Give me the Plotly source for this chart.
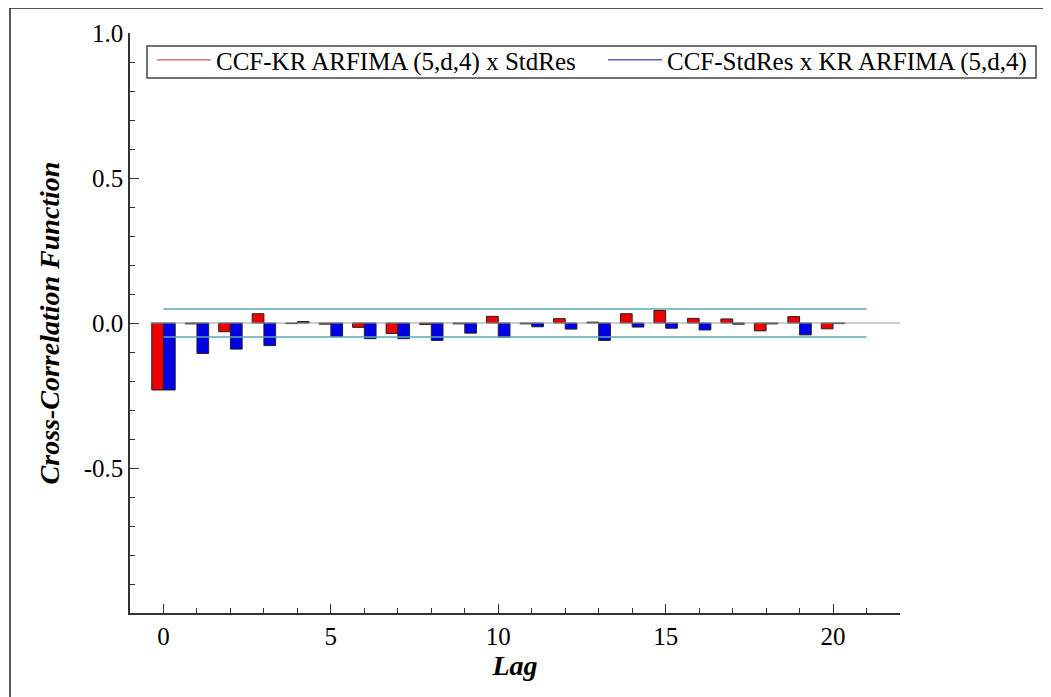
import plotly.graph_objects as go

# ---- data ----
lags = list(range(0, 21))
ccf_kr_x_stdres = [-0.231, -0.003, -0.030, 0.032, -0.002, -0.004, -0.015, -0.036, -0.005, -0.003,
                   0.023, -0.003, 0.015, 0.003, 0.032, 0.043, 0.016, 0.014, -0.027, 0.022, -0.020]
ccf_stdres_x_kr = [-0.231, -0.105, -0.090, -0.078, 0.005, -0.047, -0.054, -0.054, -0.060, -0.035,
                   -0.049, -0.013, -0.021, -0.060, -0.014, -0.018, -0.024, -0.004, -0.003, -0.041, -0.002]
conf_bound = 0.048
band_lags = [0, 21]
zero_lags = [-0.4, 22]
series_names = ["CCF-KR ARFIMA (5,d,4) x StdRes", "CCF-StdRes x KR ARFIMA (5,d,4)"]
y_tick_vals = [-0.5, 0.0, 0.5, 1.0]
y_tick_text = ["-0.5", "0.0", "0.5", "1.0"]
x_tick_vals = [0, 5, 10, 15, 20]

RED = "#ee0000"
BLUE = "#0000e6"
TEAL = "#5aaab2"
SERIF = "Liberation Serif, Times New Roman, serif"

# figure is placed 8px in from the page corner (body margin)
W, H = 1043, 689
L, T = 40, 25
R = 4
GW = W - L - R
AX_L = 122              # actual y-axis position (px from figure left)
PW, PH = 770, 580       # actual axes size


def px_x(px):
    return (px - L) / GW


def px_y(py):
    return (T + PH - py) / PH


fig = go.Figure()

# zero line
fig.add_trace(go.Scatter(x=zero_lags, y=[0, 0], mode="lines",
                         line=dict(color="#9a9a9a", width=1), showlegend=False, hoverinfo="skip"))

# bars
fig.add_trace(go.Bar(x=lags, y=ccf_kr_x_stdres, width=0.35, offset=-0.35,
                     marker=dict(color=RED, line=dict(color="#222222", width=1)),
                     showlegend=False))
fig.add_trace(go.Bar(x=lags, y=ccf_stdres_x_kr, width=0.35, offset=0.0,
                     marker=dict(color=BLUE, line=dict(color="#222222", width=1)),
                     showlegend=False))

# confidence bounds
for sgn in (1, -1):
    fig.add_trace(go.Scatter(x=band_lags, y=[sgn * conf_bound] * 2, mode="lines",
                             line=dict(color=TEAL, width=1.5), showlegend=False, hoverinfo="skip"))

# legend entries (line samples), each in its own legend box
fig.add_trace(go.Scatter(x=[None], y=[None], mode="lines", name=series_names[0],
                         line=dict(color="#e0707a", width=1.5), legend="legend"))
fig.add_trace(go.Scatter(x=[None], y=[None], mode="lines", name=series_names[1],
                         line=dict(color="#6060c0", width=1.5), legend="legend2"))

legend_common = dict(orientation="h", xanchor="left", y=px_y(29), yanchor="top",
                     bgcolor="rgba(0,0,0,0)", borderwidth=0,
                     font=dict(family=SERIF, size=25, color="black"), itemwidth=54)

fig.update_layout(
    width=W, height=H,
    paper_bgcolor="white", plot_bgcolor="white",
    margin=dict(l=L, r=R, t=T, b=H - T - PH),
    barmode="overlay",
    font=dict(family=SERIF, size=25, color="black"),
    legend=dict(x=px_x(144), **legend_common),
    legend2=dict(x=px_x(595), **legend_common),
    xaxis=dict(domain=[px_x(AX_L), px_x(AX_L + PW)], range=[-1, 22], automargin=False,
               showgrid=False, zeroline=False,
               showline=True, linecolor="#333333", linewidth=1.5,
               tickmode="array", tickvals=x_tick_vals,
               ticks="inside", ticklen=9, tickcolor="#333333", tickwidth=1,
               minor=dict(tickmode="linear", tick0=0, dtick=1, ticks="inside",
                          ticklen=5, tickcolor="#333333"),
               tickfont=dict(family=SERIF, size=25),
               title=dict(text="<b><i>Lag</i></b>", font=dict(family=SERIF, size=28), standoff=4)),
    yaxis=dict(range=[-1, 1], automargin=False, showgrid=False, zeroline=False,
               showline=True, linecolor="#333333", linewidth=1.5,
               tickmode="array", tickvals=y_tick_vals, ticktext=y_tick_text,
               ticks="inside", ticklen=9, tickcolor="#333333", tickwidth=1,
               minor=dict(tickmode="linear", tick0=0, dtick=0.1, ticks="inside",
                          ticklen=5, tickcolor="#333333"),
               tickfont=dict(family=SERIF, size=25),
               title=dict(text="<b><i>Cross-Correlation Function</i></b>",
                          font=dict(family=SERIF, size=28), standoff=16)),
    shapes=[
        # outer frame
        dict(type="rect", xref="paper", yref="paper",
             x0=px_x(2), x1=px_x(1039), y0=px_y(700), y1=px_y(0),
             line=dict(color="#222222", width=1.5), fillcolor="rgba(0,0,0,0)", layer="below"),
        # legend box
        dict(type="rect", xref="paper", yref="paper",
             x0=px_x(139), x1=px_x(1028), y0=px_y(70), y1=px_y(38),
             line=dict(color="#444444", width=1.5), fillcolor="white", layer="above"),
    ],
)

fig.write_html("out.html")
